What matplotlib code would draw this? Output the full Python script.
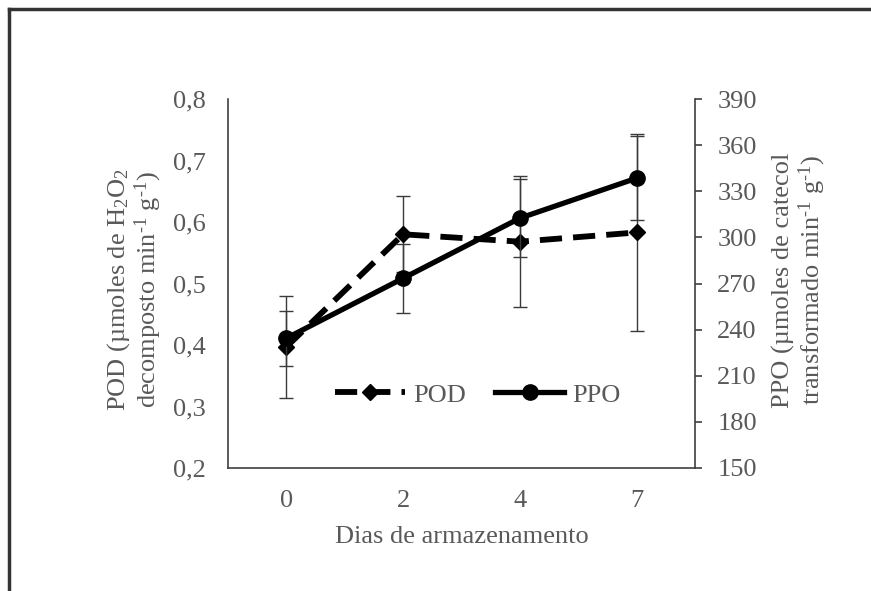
import matplotlib
matplotlib.use("Agg")
import matplotlib.pyplot as plt
from matplotlib.lines import Line2D

plt.rcParams['font.family'] = ['Liberation Serif', 'DejaVu Serif']
plt.rcParams['mathtext.fontset'] = 'custom'
plt.rcParams['mathtext.rm'] = 'Liberation Serif'
plt.rcParams['mathtext.it'] = 'Liberation Serif:italic'
plt.rcParams['mathtext.default'] = 'regular'

# ---- data ----
days = ["0", "2", "4", "7"]
pod = [0.397, 0.580, 0.568, 0.583]
pod_err = [0.083, 0.062, 0.106, 0.160]
ppo = [234.4, 273.4, 312.5, 338.5]
ppo_err = [18.0, 22.5, 25.5, 27.3]
pod_ticks = [0.2, 0.3, 0.4, 0.5, 0.6, 0.7, 0.8]
pod_ticklabels = ["0,2", "0,3", "0,4", "0,5", "0,6", "0,7", "0,8"]
ppo_ticks = [150, 180, 210, 240, 270, 300, 330, 360, 390]

TXT = '#595959'
SPINE = '#404040'
FS = 19

W, H = 871, 591
fig = plt.figure(figsize=(W / 100, H / 100), dpi=100)
fig.patch.set_facecolor('white')

ax1 = fig.add_axes([228 / W, 1 - 468 / H, (695 - 228) / W, (468 - 99) / H])
ax2 = ax1.twinx()

x = list(range(len(days)))

# POD (left axis)
ax1.errorbar(x, pod, yerr=pod_err, fmt='none', ecolor='#3a3a3a', elinewidth=1.0,
             capsize=5, capthick=1.0, zorder=2)
l1, = ax1.plot(x, pod, color='black', lw=4.2, linestyle=(0, (3.8, 1.9)), marker='D',
               markersize=8.5, zorder=3, label='POD')

# PPO (right axis)
ax2.errorbar(x, ppo, yerr=ppo_err, fmt='none', ecolor='#3a3a3a', elinewidth=1.0,
             capsize=5, capthick=1.0, zorder=2)
l2, = ax2.plot(x, ppo, color='black', lw=3.8, linestyle='-', marker='o',
               markersize=11, zorder=3, label='PPO')

ax1.set_xlim(-0.5, len(days) - 0.5)
ax1.set_xticks(x)
ax1.set_xticklabels(days)
ax1.set_ylim(0.2, 0.8)
ax1.set_yticks(pod_ticks)
ax1.set_yticklabels(pod_ticklabels)
ax2.set_ylim(150, 390)
ax2.set_yticks(ppo_ticks)

for sp in ['top', 'right']:
    ax1.spines[sp].set_visible(False)
for sp in ['top', 'left', 'bottom']:
    ax2.spines[sp].set_visible(False)
for sp in ['left', 'bottom']:
    ax1.spines[sp].set_color(SPINE)
    ax1.spines[sp].set_linewidth(1.2)
ax2.spines['right'].set_color(SPINE)
ax2.spines['right'].set_linewidth(1.2)

ax1.tick_params(axis='y', length=0, pad=16, labelsize=FS, labelcolor=TXT)
ax1.tick_params(axis='x', length=0, pad=16, labelsize=FS, labelcolor=TXT)
ax2.tick_params(axis='y', direction='out', length=5, width=1.2, color=SPINE, pad=11,
                labelsize=FS, labelcolor=TXT)

ax1.set_xlabel('Dias de armazenamento', fontsize=FS, color=TXT, va='center')
ax1.xaxis.set_label_coords(0.5, (468 - 537) / 369)

ax1.set_ylabel('POD (µmoles de H$_2$O$_2$\ndecomposto min$^{\\text{-}1}$ g$^{\\text{-}1}$)',
               fontsize=FS, color=TXT, va='center', ha='center', linespacing=1.05)
ax1.yaxis.set_label_coords((134.5 - 228) / 467, (468 - 290) / 369)

ax2.set_ylabel('PPO (µmoles de catecol\ntransformado min$^{\\text{-}1}$ g$^{\\text{-}1}$)',
               fontsize=FS, color=TXT, va='center', ha='center', linespacing=1.05,
               rotation=90)
ax2.yaxis.set_label_coords((800 - 228) / 467, (468 - 280) / 369)

leg = ax1.legend(handles=[l1, l2], loc='center', bbox_to_anchor=(0.535, 0.198),
                 ncol=2, frameon=False, fontsize=FS, handlelength=2.65,
                 handletextpad=0.3, columnspacing=1.1, labelcolor=TXT)
leg.set_zorder(5)

# outer frame (left and top edges)
fig.add_artist(Line2D([9 / W, 9 / W], [0, 1 - 9 / H], transform=fig.transFigure,
                      color='#333333', lw=2.5))
fig.add_artist(Line2D([9 / W, 1], [1 - 9 / H, 1 - 9 / H], transform=fig.transFigure,
                      color='#333333', lw=2.5))

fig.savefig('out.png', dpi=100)
